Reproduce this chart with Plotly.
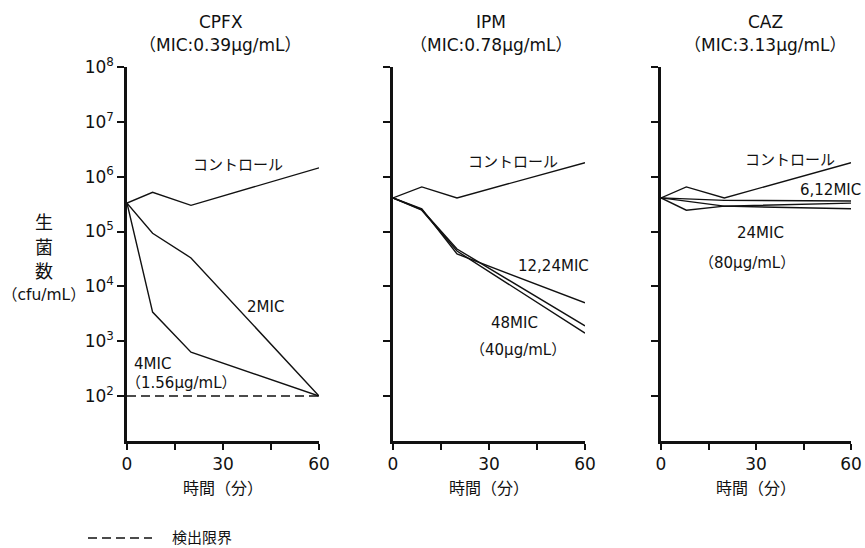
import plotly.graph_objects as go

FONT = "DejaVu Sans, Noto Sans CJK JP, sans-serif"
INK = "#111111"

# ---------------- data (cfu/mL) ----------------
t_cpfx = [0, 8, 20, 60]
cpfx_control = [3.3e5, 5.2e5, 3.0e5, 1.45e6]
cpfx_2mic = [3.3e5, 9.3e4, 3.3e4, 1.0e2]
cpfx_4mic = [3.3e5, 3.4e3, 6.3e2, 1.0e2]

t_limit = [0, 60]
detection_limit = [1.0e2, 1.0e2]

t_ipm = [0, 9, 20, 60]
ipm_control = [4.1e5, 6.5e5, 4.1e5, 1.8e6]
ipm_12mic = [4.1e5, 2.6e5, 3.9e4, 5.0e3]
ipm_24mic = [4.1e5, 2.5e5, 4.8e4, 1.9e3]
ipm_48mic = [4.1e5, 2.45e5, 4.4e4, 1.4e3]

t_caz = [0, 8, 20, 60]
caz_control = [4.1e5, 6.5e5, 4.1e5, 1.8e6]
caz_6mic = [4.1e5, 3.9e5, 3.7e5, 3.6e5]
caz_12mic = [4.1e5, 3.55e5, 2.9e5, 3.3e5]
caz_24mic = [4.1e5, 2.45e5, 2.9e5, 2.6e5]

x_ticks = [0, 30, 60]
x_ticktext = ["0", "30", "60"]
x_minor_step = 15
y_ticks = [1e2, 1e3, 1e4, 1e5, 1e6, 1e7, 1e8]
y_ticktext = ["10<sup>2</sup>", "10<sup>3</sup>", "10<sup>4</sup>", "10<sup>5</sup>",
              "10<sup>6</sup>", "10<sup>7</sup>", "10<sup>8</sup>"]

panel_titles = ["CPFX", "IPM", "CAZ"]
panel_subtitles = ["（MIC:0.39μg/mL）", "（MIC:0.78μg/mL）", "（MIC:3.13μg/mL）"]

# ---------------- figure ----------------
fig = go.Figure()

def line(x, y, ax, dash="solid"):
    fig.add_trace(go.Scatter(x=x, y=y, mode="lines", xaxis="x" + ax, yaxis="y" + ax,
                             line=dict(color=INK, width=1.4, dash=dash),
                             showlegend=False, hoverinfo="skip"))

line(t_cpfx, cpfx_control, "")
line(t_cpfx, cpfx_2mic, "")
line(t_cpfx, cpfx_4mic, "")
line(t_limit, detection_limit, "", dash="9px,5px")

line(t_ipm, ipm_control, "2")
line(t_ipm, ipm_12mic, "2")
line(t_ipm, ipm_24mic, "2")
line(t_ipm, ipm_48mic, "2")

line(t_caz, caz_control, "3")
line(t_caz, caz_6mic, "3")
line(t_caz, caz_12mic, "3")
line(t_caz, caz_24mic, "3")

W, H = 865, 548
x_domains = [[127 / W, 319 / W], [393 / W, 585 / W], [661 / W, 851 / W]]
y_domain = [1 - 441 / H, 1 - 67 / H]

layout = dict(
    width=W, height=H, margin=dict(l=0, r=0, t=0, b=0, pad=0, autoexpand=False),
    paper_bgcolor="white", plot_bgcolor="white",
    font=dict(family=FONT, size=15, color=INK),
    showlegend=False,
)

for i in range(3):
    sx = "" if i == 0 else str(i + 1)
    layout["xaxis" + sx] = dict(
        domain=x_domains[i], range=[0, 60], anchor="y" + sx, automargin=False,
        tickmode="array", tickvals=x_ticks, ticktext=x_ticktext,
        ticks="outside", ticklen=6, tickwidth=1.5, tickcolor=INK,
        minor=dict(ticks="outside", tick0=0, dtick=x_minor_step, ticklen=6,
                   tickwidth=1.5, tickcolor=INK, showgrid=False),
        showline=True, linewidth=2.5, linecolor=INK,
        showgrid=False, zeroline=False, tickfont=dict(size=17, family=FONT),
        fixedrange=True,
    )
    yax = dict(
        domain=y_domain, type="log", range=[1.18, 8], anchor="x" + sx, automargin=False,
        tickmode="array", tickvals=y_ticks,
        ticks="outside", ticklen=7, tickwidth=1.5, tickcolor=INK,
        showline=True, linewidth=2.5, linecolor=INK,
        showgrid=False, zeroline=False, tickfont=dict(size=17, family=FONT),
        fixedrange=True,
    )
    if i == 0:
        yax["ticktext"] = y_ticktext
    else:
        yax["showticklabels"] = False
    layout["yaxis" + sx] = yax

fig.update_layout(**layout)

def note(text, x, y, xref="paper", yref="paper", size=15, xanchor="center"):
    return dict(text=text, x=x, y=y, xref=xref, yref=yref, xanchor=xanchor, yanchor="middle",
                showarrow=False, font=dict(size=size))

ann = []
title_x = [221, 491, 765]
for i in range(3):
    ann.append(note(panel_titles[i], title_x[i] / W, 1 - 22 / H, size=17))
    ann.append(note(panel_subtitles[i], title_x[i] / W, 1 - 45 / H, size=17))
    sx = "" if i == 0 else str(i + 1)
    ann.append(note("時間（分）", 0.5, 1 - 488 / H, xref="x" + sx + " domain", size=16))

# y-axis title
for txt, py, sz in [("生", 222, 18), ("菌", 247, 18), ("数", 271, 18), ("（cfu/mL）", 295, 15.5)]:
    ann.append(note(txt, 44 / W, 1 - py / H, size=sz))

# series labels (data coords; y in log10 units)
labels = [
    ("コントロール", 34.7, 6.21, ""),
    ("2MIC", 43.4, 3.62, ""),
    ("4MIC", 7.9, 2.58, ""),
    ("（1.56μg/mL）", 17.1, 2.24, ""),
    ("コントロール", 37.5, 6.27, "2"),
    ("12,24MIC", 50.3, 4.37, "2"),
    ("48MIC", 38.1, 3.33, "2"),
    ("（40μg/mL）", 39.1, 2.84, "2"),
    ("コントロール", 40.7, 6.30, "3"),
    ("6,12MIC", 53.4, 5.76, "3"),
    ("24MIC", 31.3, 4.97, "3"),
    ("（80μg/mL）", 27.2, 4.43, "3"),
]
for txt, x, y, sx in labels:
    ann.append(note(txt, x, y, xref="x" + sx, yref="y" + sx, size=15))

# legend for detection limit
ann.append(note("検出限界", 170 / W, 1 - 538 / H, size=15, xanchor="left"))
fig.update_layout(annotations=ann)
fig.add_shape(type="line", xref="paper", yref="paper",
              x0=88 / W, x1=152 / W, y0=1 - 538 / H, y1=1 - 538 / H,
              line=dict(color=INK, width=1.4, dash="9px,5px"))

fig.write_html("out.html")
